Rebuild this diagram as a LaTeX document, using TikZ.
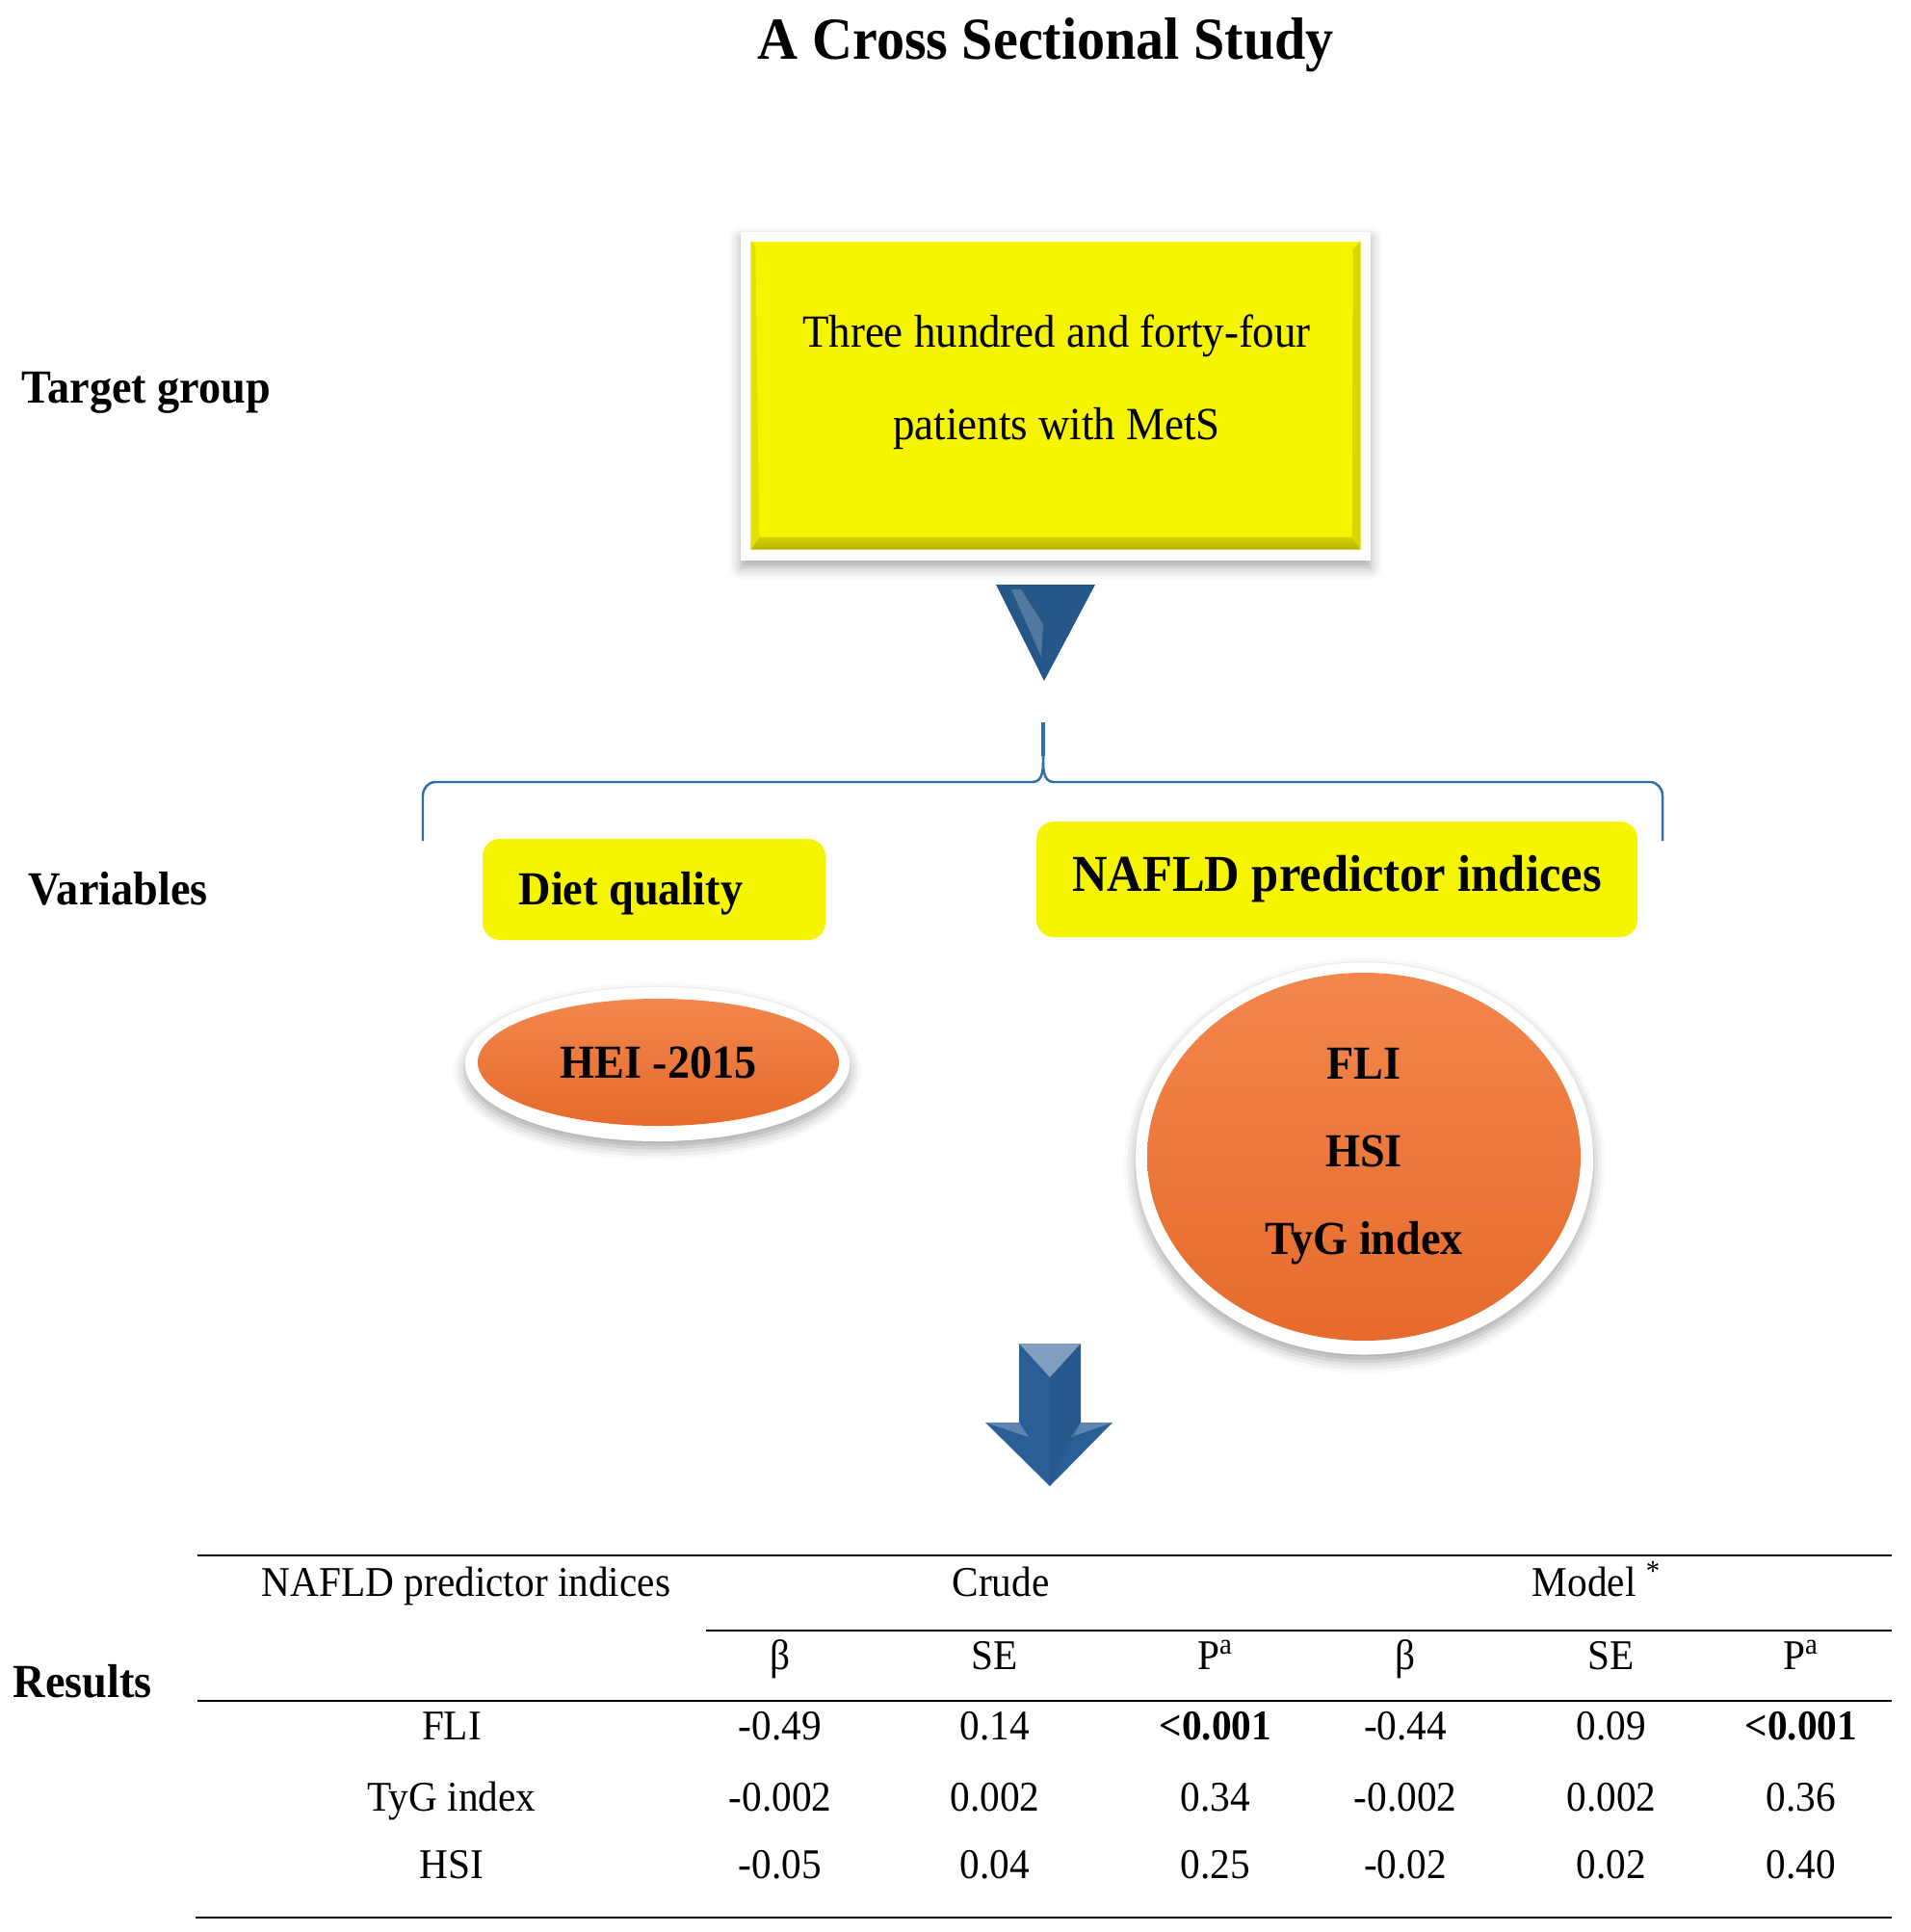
\documentclass[tikz,border=0pt]{standalone}
\usepackage{fontspec}
\setmainfont{Liberation Serif}[FakeStretch=0.94]
\usetikzlibrary{shapes.geometric,shadows.blur}
\definecolor{flowyellow}{RGB}{246,245,0}
\definecolor{bevelyellow}{RGB}{184,178,0}
\definecolor{flowblue}{RGB}{37,87,136}
\definecolor{arrowblue}{RGB}{42,94,150}
\definecolor{braceblue}{RGB}{46,110,170}
\definecolor{floworange}{RGB}{242,124,60}
\definecolor{deeporange}{RGB}{230,106,44}
\begin{document}
\begin{tikzpicture}[
    heading/.style={anchor=base west,inner sep=0pt,font=\bfseries\fontsize{14}{16}\selectfont},
    rim/.style={fill=white,inner sep=0pt,blur shadow={shadow xshift=0pt,shadow yshift=-0.07cm,shadow blur radius=0.12cm,shadow opacity=35}},
    varbox/.style={fill=flowyellow,rounded corners=0.18cm,inner sep=0pt},
    blob/.style={ellipse,inner sep=0pt,top color=floworange!92!white,middle color=floworange,bottom color=deeporange,font=\bfseries\fontsize{14}{25.9}\selectfont,align=center},
    cell/.style={anchor=base,inner sep=0pt,font=\fontsize{12.5}{15}\selectfont},
  ]
  \useasboundingbox (0,0) rectangle (19.84,-20.06);
  \node[anchor=base,font=\bfseries\fontsize{17.6}{20}\selectfont] (title) at (10.86,-0.61) {A Cross Sectional Study};
  \node[heading] (target) at (0.22,-4.18) {Target group};
  \node[heading] (variables) at (0.29,-9.39) {Variables};
  \node[heading] (results) at (0.13,-17.62) {Results};
  \node[rim,minimum width=6.54cm,minimum height=3.41cm] (groupRim) at (10.96,-4.115) {};
  \node[fill=flowyellow,inner sep=0pt,minimum width=6.32cm,minimum height=3.19cm] (group) at (10.96,-4.105) {};
  \shade[top color=bevelyellow!55!flowyellow,bottom color=bevelyellow] (group.south west) -- (group.south east) -- ([xshift=-0.09cm,yshift=0.13cm]group.south east) -- ([xshift=0.09cm,yshift=0.13cm]group.south west) -- cycle;
  \fill[flowyellow!88!black] (group.south east) -- (group.north east) -- ([xshift=-0.08cm,yshift=-0.08cm]group.north east) -- ([xshift=-0.09cm,yshift=0.13cm]group.south east) -- cycle;
  \fill[flowyellow!92!black] (group.south west) -- (group.north west) -- ([xshift=0.05cm,yshift=-0.05cm]group.north west) -- ([xshift=0.09cm,yshift=0.13cm]group.south west) -- cycle;
  \node[align=center,font=\fontsize{13.6}{27.3}\selectfont] (groupText) at (10.97,-3.97) {Three hundred and forty-four\\patients with MetS};
  \fill[flowblue] (10.34,-6.07) -- (11.37,-6.07) -- (10.84,-7.07) -- cycle;
  \fill[flowblue!55!white,opacity=0.45] (10.50,-6.12) -- (10.60,-6.12) -- (10.83,-6.48) -- (10.81,-6.82) -- cycle;
  \coordinate (braceTip) at (10.83,-7.50);
  \coordinate (braceLeft) at (4.39,-8.73);
  \coordinate (braceRight) at (17.26,-8.73);
  \draw[braceblue,line width=0.7pt] (braceLeft) -- ++(0,0.47) to[out=90,in=180] (4.52,-8.12) -- (10.72,-8.12) to[out=0,in=-90] (10.83,-7.83) -- (braceTip);
  \draw[braceblue,line width=0.7pt] (braceRight) -- ++(0,0.47) to[out=90,in=0] (17.13,-8.12) -- (10.94,-8.12) to[out=180,in=-90] (10.83,-7.83);
  \draw[braceblue,line width=1.4pt] (10.83,-7.85) -- (braceTip);
  \node[varbox,minimum width=3.56cm,minimum height=1.05cm] (diet) at (6.79,-9.235) {};
  \node[heading] (dietText) at (5.38,-9.39) {Diet quality};
  \node[varbox,minimum width=6.24cm,minimum height=1.20cm,font=\bfseries\fontsize{15.3}{17}\selectfont] (nafld) at (13.88,-9.13) {NAFLD predictor indices};
  \node[rim,ellipse,minimum width=3.99cm,minimum height=1.60cm] (heiRim) at (6.825,-11.05) {};
  \node[blob,minimum width=3.75cm,minimum height=1.32cm] (hei) at (6.835,-11.03) {HEI -2015};
  \node[rim,ellipse,minimum width=4.75cm,minimum height=4.07cm] (indexRim) at (14.165,-12.03) {};
  \node[blob,minimum width=4.50cm,minimum height=3.82cm] (indices) at (14.16,-12.01) {FLI\\HSI\\TyG index};
  \fill[arrowblue] (10.58,-13.95) -- (11.22,-13.95) -- (11.22,-14.77) -- (11.55,-14.77) -- (10.90,-15.43) -- (10.23,-14.77) -- (10.58,-14.77) -- cycle;
  \fill[arrowblue!60!white] (10.58,-13.95) -- (11.22,-13.95) -- (10.90,-14.30) -- cycle;
  \fill[arrowblue!75!white] (10.23,-14.77) -- (10.58,-14.77) -- (10.68,-14.92) -- cycle;
  \fill[arrowblue!75!white] (11.55,-14.77) -- (11.22,-14.77) -- (11.12,-14.92) -- cycle;
  \fill[arrowblue!85!black,opacity=0.35] (10.90,-14.30) -- (11.22,-13.95) -- (11.22,-14.77) -- (10.90,-15.43) -- cycle;
  \draw[line width=0.8pt] (2.05,-16.15) -- (19.64,-16.15);
  \draw[line width=0.8pt] (7.33,-16.93) -- (19.64,-16.93);
  \draw[line width=0.8pt] (2.05,-17.66) -- (19.64,-17.66);
  \draw[line width=0.8pt] (2.03,-19.91) -- (19.64,-19.91);
  \node[cell] (hIndex) at (4.84,-16.57) {NAFLD predictor indices};
  \node[cell] (hCrude) at (10.39,-16.57) {Crude};
  \node[cell,anchor=base west] (hModel) at (15.90,-16.57) {Model \textsuperscript{*}};
  \foreach \x/\t [count=\j] in {8.10/β,10.33/SE,12.62/P\textsuperscript{a},14.59/β,16.73/SE,18.70/P\textsuperscript{a}}
    \node[cell] (h\j) at (\x,-17.33) {\t};
  \foreach \y/\lab/\a/\b/\c/\d/\e/\f [count=\i] in {
      -18.06/FLI/-0.49/0.14/\textbf{<0.001}/-0.44/0.09/\textbf{<0.001},
      -18.80/TyG index/-0.002/0.002/0.34/-0.002/0.002/0.36,
      -19.50/HSI/-0.05/0.04/0.25/-0.02/0.02/0.40}
  {
    \node[cell] (r\i-0) at (4.69,\y) {\lab};
    \node[cell] (r\i-1) at (8.10,\y) {\a};
    \node[cell] (r\i-2) at (10.33,\y) {\b};
    \node[cell] (r\i-3) at (12.62,\y) {\c};
    \node[cell] (r\i-4) at (14.59,\y) {\d};
    \node[cell] (r\i-5) at (16.73,\y) {\e};
    \node[cell] (r\i-6) at (18.70,\y) {\f};
  }
\end{tikzpicture}
\end{document}
